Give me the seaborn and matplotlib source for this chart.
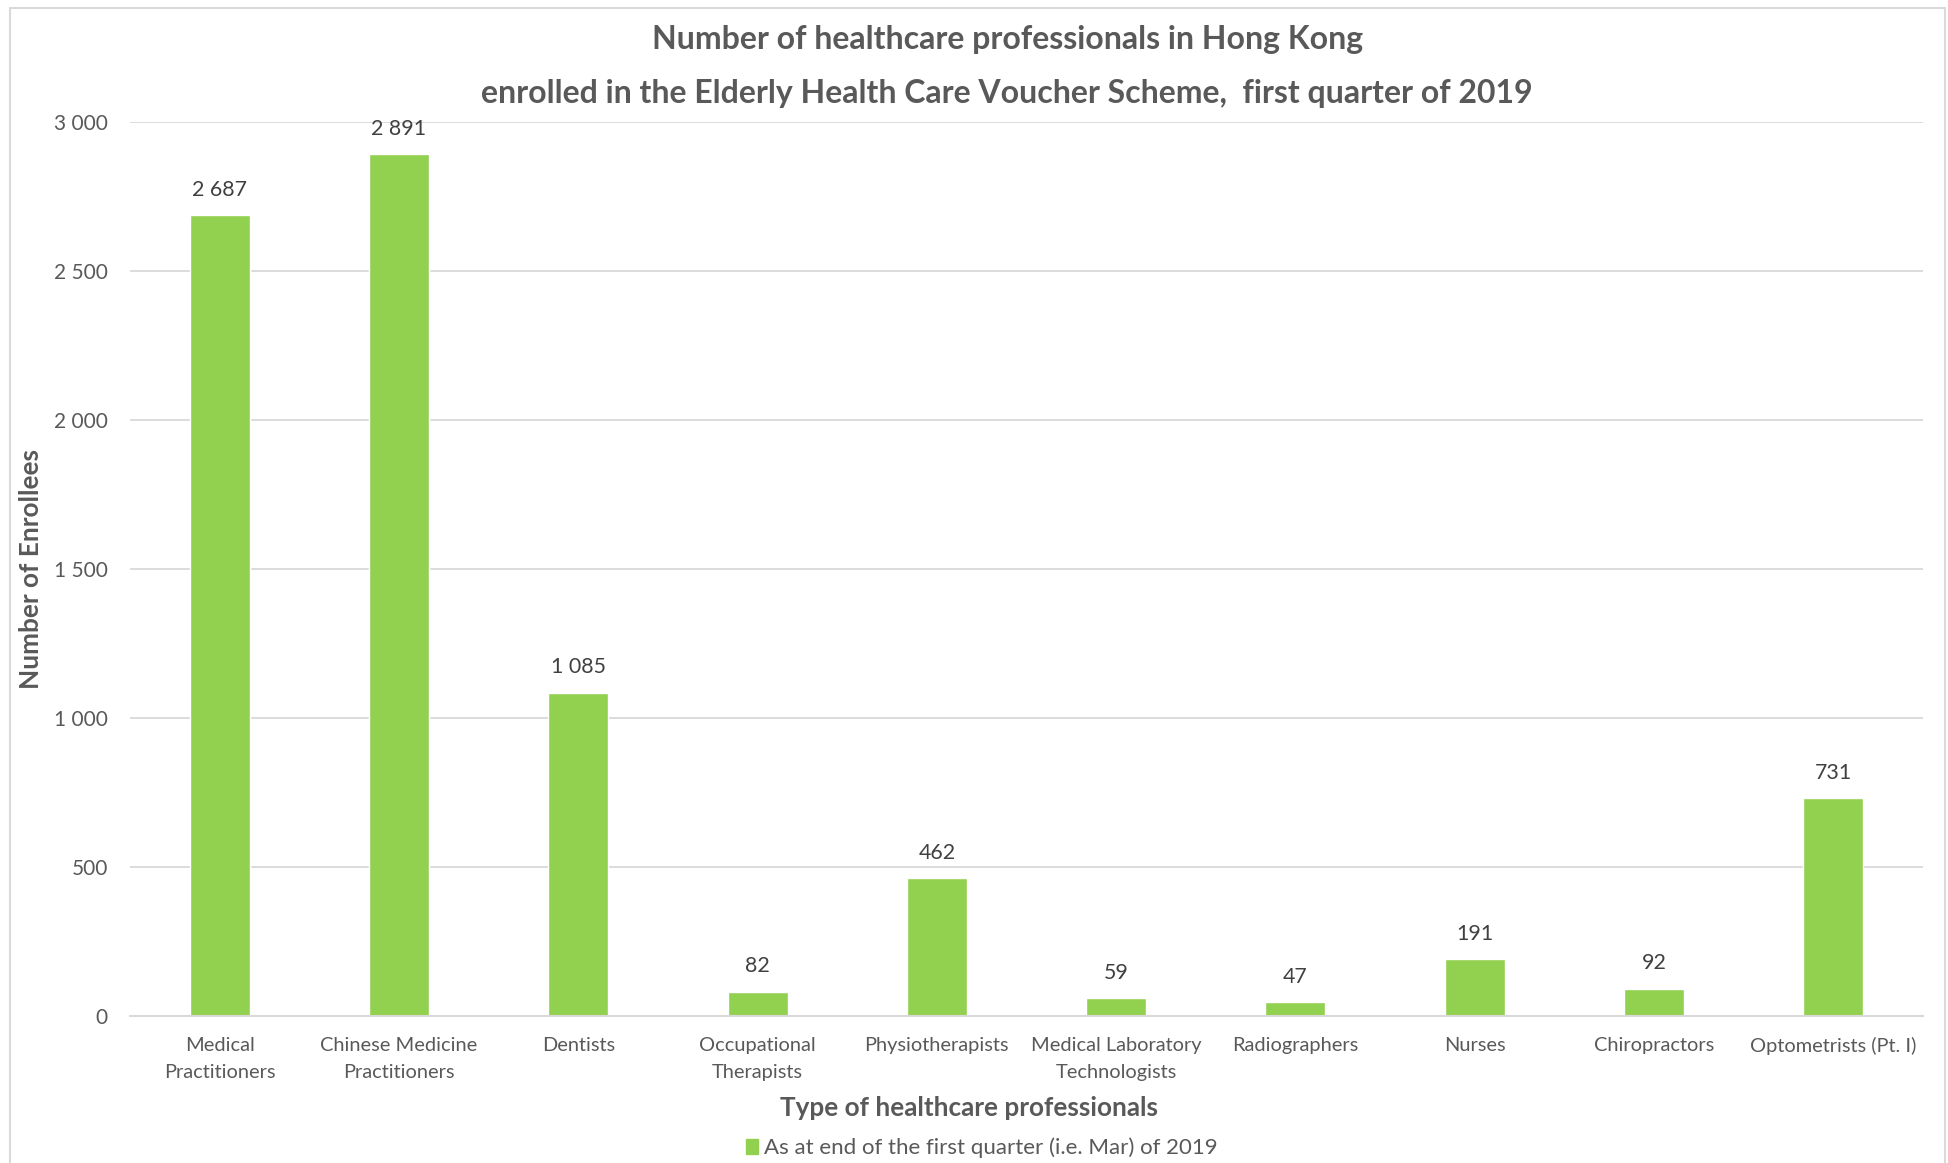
import matplotlib
matplotlib.use("Agg")
import matplotlib.pyplot as plt
import seaborn as sns
import pandas as pd
from matplotlib.patches import Rectangle

categories = ["Medical\nPractitioners", "Chinese Medicine\nPractitioners", "Dentists",
              "Occupational\nTherapists", "Physiotherapists", "Medical Laboratory\nTechnologists",
              "Radiographers", "Nurses", "Chiropractors", "Optometrists (Pt. I)"]
values = [2687, 2891, 1085, 82, 462, 59, 47, 191, 92, 731]
series_name = "As at end of the first quarter (i.e. Mar) of 2019"
y_ticks = [0, 500, 1000, 1500, 2000, 2500, 3000]

sns.set_theme(style="white")
plt.rcParams['font.family'] = ['Lato', 'DejaVu Sans']

df = pd.DataFrame({"cat": categories, "val": values, "series": series_name})

fig = plt.figure(figsize=(19.48, 11.63), dpi=100)
fig.patches.append(Rectangle((10/1948, -0.01), (1945-10)/1948, 1 - 8/1163 + 0.01,
                             transform=fig.transFigure, fill=False, edgecolor="#D9D9D9", linewidth=1.5))
ax = fig.add_axes([130/1948, 1 - 1016/1163, (1923-130)/1948, (1016-122)/1163])

green = "#92D050"
sns.barplot(data=df, x="cat", y="val", hue="series", palette=[green], dodge=False,
            width=0.335, ax=ax, saturation=1)

ax.set_ylim(0, 3000)
ax.set_yticks(y_ticks)
ax.set_yticklabels([f"{v:,}".replace(",", " ") for v in y_ticks])
ax.set_xlim(-0.5, len(categories) - 0.5)
ax.yaxis.grid(True, color="#D9D9D9", linewidth=1.3)
ax.set_axisbelow(True)
for s in ["top", "right", "left"]:
    ax.spines[s].set_visible(False)
ax.spines["bottom"].set_color("#D9D9D9")
ax.spines["bottom"].set_linewidth(1.5)
ax.tick_params(axis="y", length=0, pad=16, labelsize=15, labelcolor="#595959")
ax.tick_params(axis="x", length=0, pad=15, labelsize=14.4, labelcolor="#595959")
for t in ax.get_xticklabels():
    t.set_linespacing(1.75)
ax.set_xlabel("")
ax.set_ylabel("")

for c in ax.containers:
    ax.bar_label(c, labels=[f"{v:,}".replace(",", " ") for v in values], padding=11,
                 fontsize=15.4, color="#404040")

leg = ax.get_legend()
if leg:
    leg.remove()
handles = [Rectangle((0, 0), 1, 1, color=green)]
fig.legend(handles, [series_name], loc="center", bbox_to_anchor=(0.504, 0.0129), frameon=False,
           fontsize=16, labelcolor="#595959", handlelength=0.55, handleheight=0.7, handletextpad=0.3)

fig.text(0.517, 1 - 40/1163, "Number of healthcare professionals in Hong Kong", ha="center", va="center",
         fontsize=23, fontweight="bold", color="#595959")
fig.text(0.517, 1 - 93/1163, "enrolled in the Elderly Health Care Voucher Scheme,  first quarter of 2019",
         ha="center", va="center", fontsize=23, fontweight="bold", color="#595959")
fig.text(0.4975, 1 - 1108/1163, "Type of healthcare professionals", ha="center", va="center",
         fontsize=18.8, fontweight="bold", color="#595959")
fig.text(31/1948, 0.511, "Number of Enrollees", ha="center", va="center", rotation=90,
         fontsize=18.8, fontweight="bold", color="#595959")

fig.savefig("out.png", dpi=100)
